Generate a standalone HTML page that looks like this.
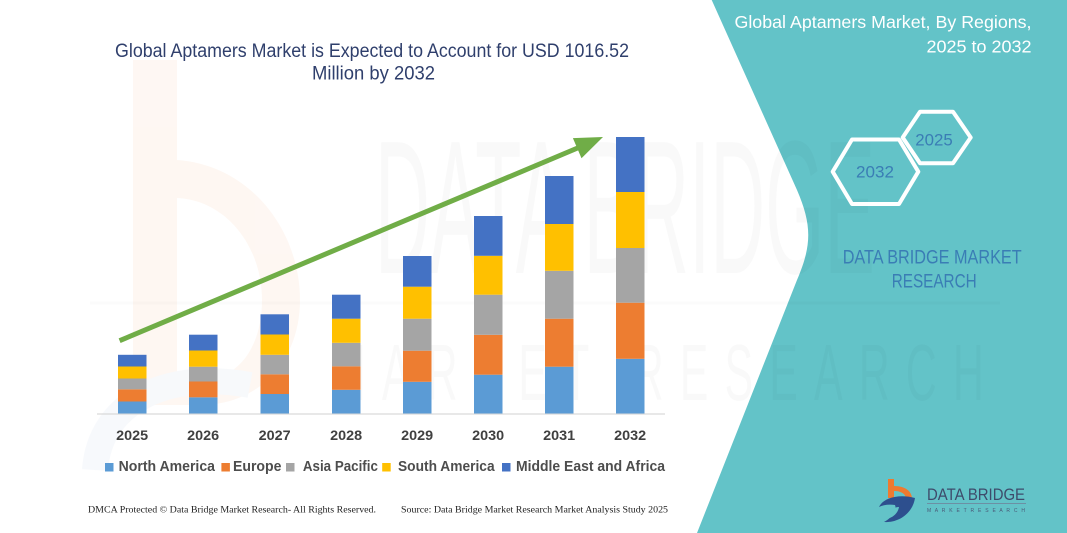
<!DOCTYPE html>
<html>
<head>
<meta charset="utf-8">
<style>
html,body{margin:0;padding:0;background:#fff;}
body{width:1067px;height:533px;overflow:hidden;}
svg{display:block;}
text{font-family:"Liberation Sans",sans-serif;}
</style>
</head>
<body>
<svg width="1067" height="533" viewBox="0 0 1067 533" xmlns="http://www.w3.org/2000/svg">
  <rect x="0" y="0" width="1067" height="533" fill="#ffffff"/>

  <!-- faint watermark: b logo -->
  <g opacity="0.45">
    <rect x="133" y="60" width="44" height="345" fill="#fdeee4"/>
    <path d="M177,160 C250,165 300,230 300,300 C300,360 260,405 200,405 L177,405 L177,380 L200,380 C240,380 262,345 262,300 C262,245 225,200 177,198 Z" fill="#fdeee4"/>
    <path d="M95,470 C100,400 170,370 250,385" fill="none" stroke="#eef2f8" stroke-width="26"/>
  </g>

  <!-- teal panel -->
  <path d="M711.7,0 L1067,0 L1067,533 L697,533 L797,280 C812,245 812,225 797,190 Z" fill="#63c3c8"/>

  <!-- faint watermark text -->
  <g fill="#000" opacity="0.018">
    <text x="375" y="273" font-size="190" textLength="500" lengthAdjust="spacingAndGlyphs">DATA BRIDGE</text>
    <text x="330" y="400" font-size="80" textLength="670" lengthAdjust="spacingAndGlyphs" letter-spacing="30">MARKET RESEARCH</text>
  </g>
  <line x1="90" y1="303" x2="1000" y2="303" stroke="#000" stroke-opacity="0.015" stroke-width="3"/>

  <!-- main title -->
  <g fill="#2f3f6c" font-size="19">
    <text x="115" y="57" textLength="514" lengthAdjust="spacingAndGlyphs">Global Aptamers Market is Expected to Account for USD 1016.52</text>
    <text x="312" y="79.5" textLength="123" lengthAdjust="spacingAndGlyphs">Million by 2032</text>
  </g>

  <!-- axis -->
  <line x1="97" y1="414" x2="665" y2="414" stroke="#d9d9d9" stroke-width="1.2"/>

  <!-- bars -->
  <g>
    <rect x="118" y="401.5" width="28.5" height="12" fill="#5b9bd5"/>
    <rect x="118" y="389.3" width="28.5" height="12.2" fill="#ed7d31"/>
    <rect x="118" y="378.5" width="28.5" height="10.8" fill="#a5a5a5"/>
    <rect x="118" y="366.5" width="28.5" height="12" fill="#ffc000"/>
    <rect x="118" y="354.8" width="28.5" height="11.7" fill="#4472c4"/>

    <rect x="189" y="397.3" width="28.5" height="16.2" fill="#5b9bd5"/>
    <rect x="189" y="381.5" width="28.5" height="15.8" fill="#ed7d31"/>
    <rect x="189" y="366.7" width="28.5" height="14.8" fill="#a5a5a5"/>
    <rect x="189" y="350.5" width="28.5" height="16.2" fill="#ffc000"/>
    <rect x="189" y="334.7" width="28.5" height="15.8" fill="#4472c4"/>

    <rect x="260.5" y="394" width="28.5" height="19.5" fill="#5b9bd5"/>
    <rect x="260.5" y="374.3" width="28.5" height="19.7" fill="#ed7d31"/>
    <rect x="260.5" y="354.8" width="28.5" height="19.5" fill="#a5a5a5"/>
    <rect x="260.5" y="334.5" width="28.5" height="20.3" fill="#ffc000"/>
    <rect x="260.5" y="314.3" width="28.5" height="20.2" fill="#4472c4"/>

    <rect x="332" y="389.8" width="28.5" height="23.7" fill="#5b9bd5"/>
    <rect x="332" y="366.3" width="28.5" height="23.5" fill="#ed7d31"/>
    <rect x="332" y="342.8" width="28.5" height="23.5" fill="#a5a5a5"/>
    <rect x="332" y="318.7" width="28.5" height="24.1" fill="#ffc000"/>
    <rect x="332" y="294.7" width="28.5" height="24" fill="#4472c4"/>

    <rect x="403" y="381.8" width="28.5" height="31.7" fill="#5b9bd5"/>
    <rect x="403" y="350.7" width="28.5" height="31.1" fill="#ed7d31"/>
    <rect x="403" y="318.7" width="28.5" height="32" fill="#a5a5a5"/>
    <rect x="403" y="286.7" width="28.5" height="32" fill="#ffc000"/>
    <rect x="403" y="256" width="28.5" height="30.7" fill="#4472c4"/>

    <rect x="474" y="374.7" width="28.5" height="38.8" fill="#5b9bd5"/>
    <rect x="474" y="334.8" width="28.5" height="39.9" fill="#ed7d31"/>
    <rect x="474" y="294.7" width="28.5" height="40.1" fill="#a5a5a5"/>
    <rect x="474" y="255.8" width="28.5" height="38.9" fill="#ffc000"/>
    <rect x="474" y="216" width="28.5" height="39.8" fill="#4472c4"/>

    <rect x="545" y="366.7" width="28.5" height="46.8" fill="#5b9bd5"/>
    <rect x="545" y="318.7" width="28.5" height="48" fill="#ed7d31"/>
    <rect x="545" y="270.8" width="28.5" height="47.9" fill="#a5a5a5"/>
    <rect x="545" y="224" width="28.5" height="46.8" fill="#ffc000"/>
    <rect x="545" y="176" width="28.5" height="48" fill="#4472c4"/>

    <rect x="616" y="358.8" width="28.5" height="54.7" fill="#5b9bd5"/>
    <rect x="616" y="302.7" width="28.5" height="56.1" fill="#ed7d31"/>
    <rect x="616" y="248" width="28.5" height="54.7" fill="#a5a5a5"/>
    <rect x="616" y="192" width="28.5" height="56" fill="#ffc000"/>
    <rect x="616" y="137" width="28.5" height="55" fill="#4472c4"/>
  </g>

  <!-- arrow -->
  <line x1="119.6" y1="340.7" x2="580" y2="147" stroke="#70ad47" stroke-width="5"/>
  <polygon points="603,137 581.5,158.3 572.9,138.1" fill="#70ad47"/>

  <!-- year labels -->
  <g fill="#404040" font-size="14" font-weight="bold" text-anchor="middle">
    <text x="132.2" y="440" textLength="32" lengthAdjust="spacingAndGlyphs">2025</text>
    <text x="203.2" y="440" textLength="32" lengthAdjust="spacingAndGlyphs">2026</text>
    <text x="274.7" y="440" textLength="32" lengthAdjust="spacingAndGlyphs">2027</text>
    <text x="346.2" y="440" textLength="32" lengthAdjust="spacingAndGlyphs">2028</text>
    <text x="417.2" y="440" textLength="32" lengthAdjust="spacingAndGlyphs">2029</text>
    <text x="488.2" y="440" textLength="32" lengthAdjust="spacingAndGlyphs">2030</text>
    <text x="559.2" y="440" textLength="32" lengthAdjust="spacingAndGlyphs">2031</text>
    <text x="630.2" y="440" textLength="32" lengthAdjust="spacingAndGlyphs">2032</text>
  </g>

  <!-- legend -->
  <g font-size="14.5" font-weight="bold" fill="#4d4d4d">
    <rect x="105" y="463" width="8.5" height="8.5" fill="#5b9bd5"/>
    <text x="118.6" y="471" textLength="96.4" lengthAdjust="spacingAndGlyphs">North America</text>
    <rect x="221.4" y="463" width="8.5" height="8.5" fill="#ed7d31"/>
    <text x="233" y="471" textLength="48.4" lengthAdjust="spacingAndGlyphs">Europe</text>
    <rect x="286" y="463" width="8.5" height="8.5" fill="#a5a5a5"/>
    <text x="302.9" y="471" textLength="75" lengthAdjust="spacingAndGlyphs">Asia Pacific</text>
    <rect x="382.2" y="463" width="8.5" height="8.5" fill="#ffc000"/>
    <text x="398" y="471" textLength="96.6" lengthAdjust="spacingAndGlyphs">South America</text>
    <rect x="502" y="463" width="8.5" height="8.5" fill="#4472c4"/>
    <text x="516" y="471" textLength="149" lengthAdjust="spacingAndGlyphs">Middle East and Africa</text>
  </g>

  <!-- footer -->
  <g font-size="9.5" fill="#222">
    <text x="88" y="512.5" textLength="288" lengthAdjust="spacingAndGlyphs" style="font-family:'Liberation Serif',serif">DMCA Protected © Data Bridge Market Research- All Rights Reserved.</text>
    <text x="401" y="512.5" textLength="267" lengthAdjust="spacingAndGlyphs" style="font-family:'Liberation Serif',serif">Source: Data Bridge Market Research  Market Analysis Study 2025</text>
  </g>

  <!-- right panel titles -->
  <g fill="#ffffff" font-size="17.5" text-anchor="end">
    <text x="1031.5" y="28" textLength="297" lengthAdjust="spacingAndGlyphs">Global Aptamers Market, By Regions,</text>
    <text x="1031.5" y="52.5" textLength="105" lengthAdjust="spacingAndGlyphs">2025 to 2032</text>
  </g>

  <!-- hexagons -->
  <g fill="none" stroke="#ffffff" stroke-width="4" stroke-linejoin="round">
    <polygon points="832.7,171.7 852,139.5 899,139.5 918.3,171.7 899,204 852,204"/>
    <polygon points="902.7,137.5 920,111.7 953,111.7 970.7,137.5 953,163.3 920,163.3"/>
  </g>
  <g fill="#3a7db5" font-size="17" text-anchor="middle">
    <text x="875" y="177.5" textLength="38" lengthAdjust="spacingAndGlyphs">2032</text>
    <text x="934" y="145.7" textLength="37.5" lengthAdjust="spacingAndGlyphs">2025</text>
  </g>

  <!-- DBMR text -->
  <g fill="#3a7db5" font-size="19" text-anchor="middle">
    <text x="932.2" y="263.5" textLength="179" lengthAdjust="spacingAndGlyphs">DATA BRIDGE MARKET</text>
    <text x="934.2" y="287.5" textLength="85" lengthAdjust="spacingAndGlyphs">RESEARCH</text>
  </g>

  <!-- bottom logo -->
  <g>
    <rect x="888" y="479" width="6" height="19" fill="#ee7a30"/>
    <path d="M894,486 C906,486 912,492 912,499 L906,499 C906,494 901,491 894,491 Z" fill="#ee7a30"/>
    <path d="M879,507 C884,497 900,494 915,498 C913,512 900,523 884,522 C893,517 897,510 895,505 C889,504 883,505 879,507 Z" fill="#2d4f8e"/>
    <path d="M886,515 C890,509 895,507 899,507 C898,513 893,518 886,519 Z" fill="#63c3c8"/>
    <text x="927" y="500" font-size="17" fill="#3e4b6b" textLength="98" lengthAdjust="spacingAndGlyphs">DATA BRIDGE</text>
    <line x1="927" y1="503.5" x2="1026" y2="503.5" stroke="#6f7f99" stroke-width="0.8"/>
    <text x="927" y="512" font-size="5" fill="#4a5a78" textLength="98" lengthAdjust="spacing">M A R K E T   R E S E A R C H</text>
  </g>
</svg>
</body>
</html>
